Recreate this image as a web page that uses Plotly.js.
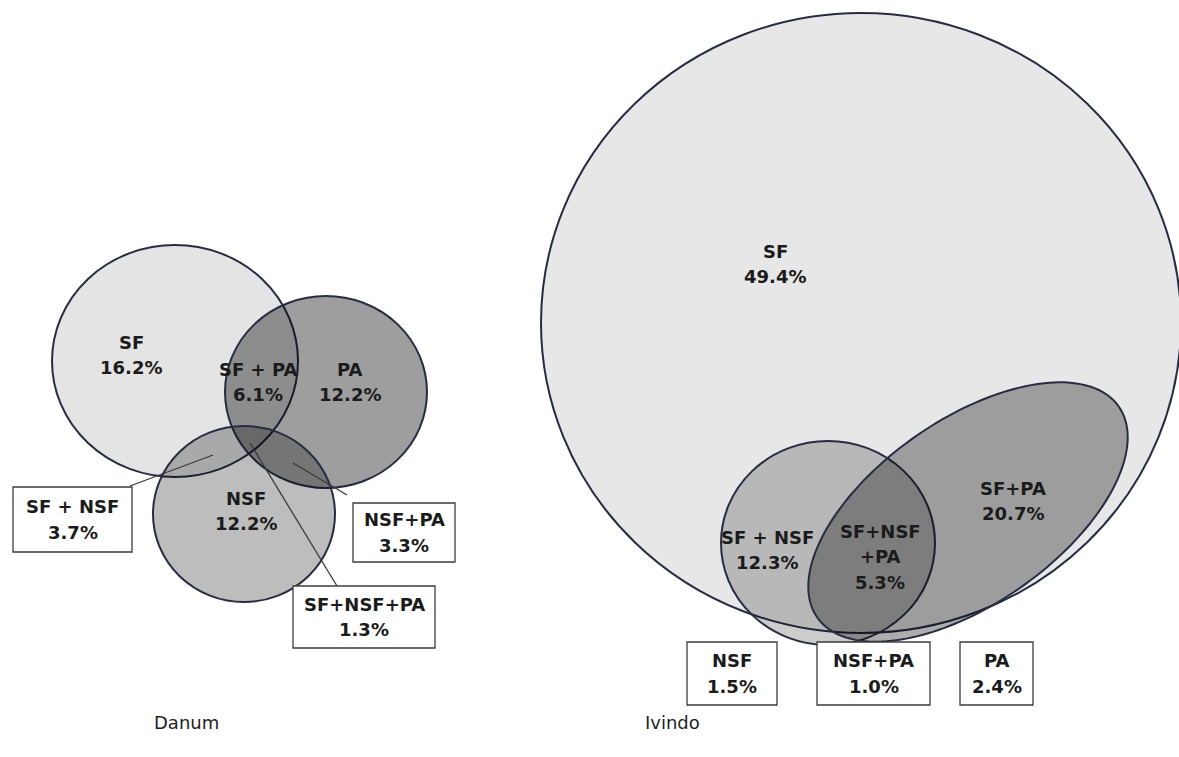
<!DOCTYPE html>
<html>
<head>
<meta charset="utf-8">
<script src="https://cdn.plot.ly/plotly-3.0.1.min.js"></script>
<style>
html, body { margin: 0; padding: 0; background: #ffffff; }
#chart { width: 1179px; height: 757px; }
</style>
</head>
<body>
<div id="chart"></div>
<script>
// ---------------- DATA ----------------
const siteNames = ['Danum', 'Ivindo'];

const danumRegions = ['SF', 'SF + PA', 'PA', 'NSF'];
const danumShares = [16.2, 6.1, 12.2, 12.2];
const danumCallouts = ['SF + NSF', 'NSF+PA', 'SF+NSF+PA'];
const danumCalloutShares = [3.7, 3.3, 1.3];

const ivindoRegions = ['SF', 'SF + NSF', 'SF+NSF|+PA', 'SF+PA'];
const ivindoShares = [49.4, 12.3, 5.3, 20.7];
const ivindoCallouts = ['NSF', 'NSF+PA', 'PA'];
const ivindoCalloutShares = [1.5, 1.0, 2.4];

// ---------------- LAYOUT / GEOMETRY (pixel-space axes) ----------------
const W = 1179, H = 757;
const OUTLINE = '#272c42';
const TEXT = '#1b1b1b';
const LINE_GAP = 25.5;

// set ellipses: centre, radii, rotation (deg), fill darkness
const danumSets = [
  {cx: 175, cy: 361, rx: 123, ry: 116, rot: 0, a: 0.105},   // SF
  {cx: 326, cy: 392, rx: 101, ry: 96,  rot: 0, a: 0.38},    // PA
  {cx: 244, cy: 514, rx: 91,  ry: 88,  rot: 0, a: 0.26}     // NSF
];
const ivindoSets = [
  {cx: 861, cy: 323, rx: 320, ry: 310, rot: 0,  a: 0.095},  // SF
  {cx: 828, cy: 543, rx: 107, ry: 102, rot: 0,  a: 0.20},   // NSF
  {cx: 968, cy: 512, rx: 184, ry: 92,  rot: 35, a: 0.32}    // PA
];

const danumRegionPos = [[131, 342], [258, 369], [350, 369], [246, 498]];
const ivindoRegionPos = [[775, 251], [767, 537], [880, 531], [1013, 488]];

const danumBoxes = [
  {x0: 13,  x1: 132, y0: 487, y1: 552},
  {x0: 353, x1: 455, y0: 503, y1: 562},
  {x0: 293, x1: 435, y0: 586, y1: 648}
];
const ivindoBoxes = [
  {x0: 687, x1: 777, y0: 642, y1: 705},
  {x0: 817, x1: 930, y0: 642, y1: 705},
  {x0: 960, x1: 1033, y0: 642, y1: 705}
];
const danumLeaders = [
  [130, 486, 213, 455],
  [347, 495, 293, 463],
  [337, 586, 250, 443]
];
const sitePos = [[186, 722], [672, 722]];

// ---------------- BUILD ----------------
const shapes = [];
const annotations = [];

function ellipseShape(s) {
  const fill = 'rgba(0,0,0,' + s.a + ')';
  const line = {color: OUTLINE, width: 2};
  if (!s.rot) {
    return {type: 'circle', xref: 'x', yref: 'y',
      x0: s.cx - s.rx, x1: s.cx + s.rx, y0: s.cy - s.ry, y1: s.cy + s.ry,
      fillcolor: fill, line: line, layer: 'above'};
  }
  const t = s.rot * Math.PI / 180;
  const ux = Math.cos(t), uy = -Math.sin(t);
  const vx = Math.sin(t), vy = Math.cos(t);
  const n = 180;
  let p = '';
  for (let i = 0; i < n; i++) {
    const ph = 2 * Math.PI * i / n;
    const x = s.cx + s.rx * Math.cos(ph) * ux + s.ry * Math.sin(ph) * vx;
    const y = s.cy + s.rx * Math.cos(ph) * uy + s.ry * Math.sin(ph) * vy;
    p += (i === 0 ? 'M ' : ' L ') + x.toFixed(2) + ',' + y.toFixed(2);
  }
  p += ' Z';
  return {type: 'path', xref: 'x', yref: 'y', path: p,
    fillcolor: fill, line: line, layer: 'above'};
}

danumSets.forEach(s => shapes.push(ellipseShape(s)));
ivindoSets.forEach(s => shapes.push(ellipseShape(s)));

danumLeaders.forEach(l => shapes.push({type: 'line', xref: 'x', yref: 'y',
  x0: l[0], y0: l[1], x1: l[2], y1: l[3], line: {color: '#3a3a3a', width: 1.3}, layer: 'above'}));

function boxShape(b) {
  return {type: 'rect', xref: 'x', yref: 'y', x0: b.x0, x1: b.x1, y0: b.y0, y1: b.y1,
    fillcolor: '#ffffff', line: {color: '#3c3c3c', width: 1.3}, layer: 'above'};
}
danumBoxes.forEach(b => shapes.push(boxShape(b)));
ivindoBoxes.forEach(b => shapes.push(boxShape(b)));

const boldFont = {family: 'DejaVu Sans, Arial, sans-serif', size: 18, color: TEXT, weight: 'bold'};

function addLines(lines, x, y) {
  lines.forEach((t, i) => annotations.push({
    xref: 'x', yref: 'y', x: x, y: y + i * LINE_GAP, text: '<b>' + t + '</b>',
    showarrow: false, xanchor: 'center', yanchor: 'middle', font: boldFont
  }));
}
function pct(v) { return v.toFixed(1) + '%'; }

danumRegions.forEach((r, i) => addLines(r.split('|').concat([pct(danumShares[i])]), danumRegionPos[i][0], danumRegionPos[i][1]));
ivindoRegions.forEach((r, i) => addLines(r.split('|').concat([pct(ivindoShares[i])]), ivindoRegionPos[i][0], ivindoRegionPos[i][1]));

danumCallouts.forEach((r, i) => {
  const b = danumBoxes[i];
  const cy = (b.y0 + b.y1) / 2;
  addLines([r, pct(danumCalloutShares[i])], (b.x0 + b.x1) / 2, cy - LINE_GAP / 2);
});
ivindoCallouts.forEach((r, i) => {
  const b = ivindoBoxes[i];
  const cy = (b.y0 + b.y1) / 2;
  addLines([r, pct(ivindoCalloutShares[i])], (b.x0 + b.x1) / 2, cy - LINE_GAP / 2);
});

siteNames.forEach((s, i) => annotations.push({
  xref: 'x', yref: 'y', x: sitePos[i][0], y: sitePos[i][1], text: s,
  showarrow: false, xanchor: 'center', yanchor: 'middle',
  font: {family: 'DejaVu Sans, Arial, sans-serif', size: 18, color: '#1e1e1e'}
}));

const layout = {
  width: W, height: H,
  margin: {l: 0, r: 0, t: 0, b: 0, pad: 0},
  paper_bgcolor: '#ffffff', plot_bgcolor: '#ffffff',
  xaxis: {range: [0, W], visible: false, fixedrange: true},
  yaxis: {range: [H, 0], visible: false, fixedrange: true},
  showlegend: false,
  shapes: shapes,
  annotations: annotations
};

Plotly.newPlot('chart', [{x: [], y: [], type: 'scatter', mode: 'markers', hoverinfo: 'skip'}], layout,
  {displayModeBar: false, staticPlot: true});
</script>
</body>
</html>
